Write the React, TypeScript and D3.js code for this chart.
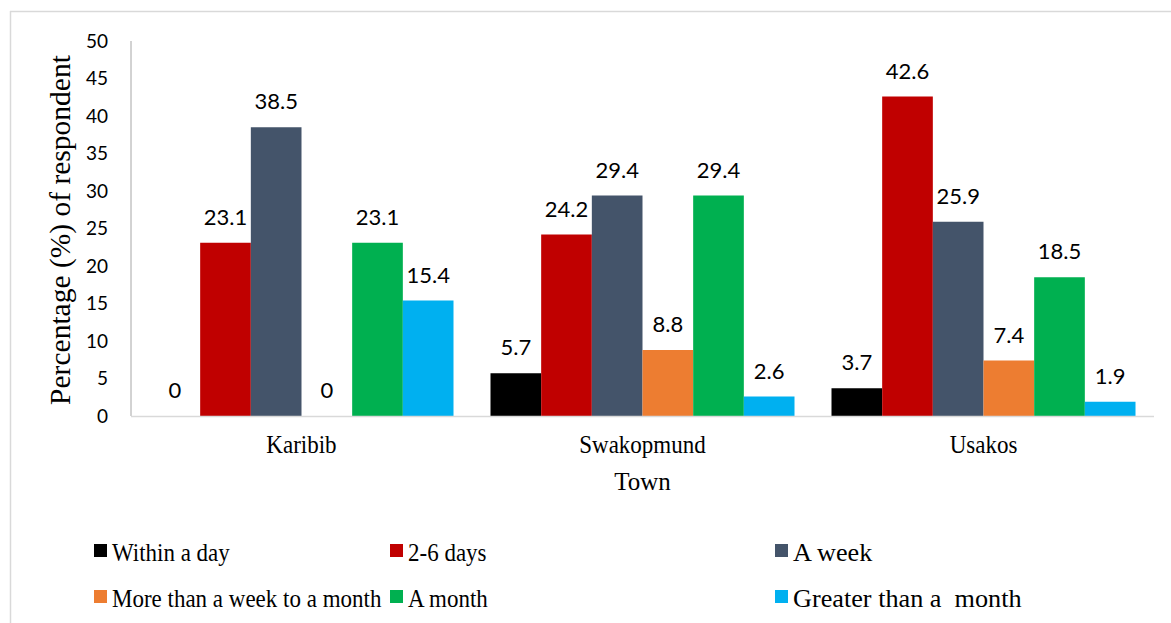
import React from "react";
import * as d3 from "d3";

// Categories and series
const towns = ["Karibib", "Swakopmund", "Usakos"];
const seriesNames = [
  "Within a day",
  "2-6 days",
  "A week",
  "More than a week to a month",
  "A month",
  "Greater than a  month",
];
const withinADay = [0, 5.7, 3.7];
const twoToSixDays = [23.1, 24.2, 42.6];
const aWeek = [38.5, 29.4, 25.9];
const weekToMonth = [0, 8.8, 7.4];
const aMonth = [23.1, 29.4, 18.5];
const greaterThanMonth = [15.4, 2.6, 1.9];
const yTicks = [0, 5, 10, 15, 20, 25, 30, 35, 40, 45, 50];

const seriesValues = [withinADay, twoToSixDays, aWeek, weekToMonth, aMonth, greaterThanMonth];
const colors = ["#000000", "#C00000", "#44546A", "#ED7D31", "#00B050", "#00B0F0"];

const W = 1171;
const H = 623;
const plotLeft = 131;
const plotRight = 1154;
const plotTop = 41;
const plotBottom = 416;

const serif = "'Liberation Serif', 'Times New Roman', serif";
const sans = "Lato, 'Open Sans', sans-serif";

export default function App() {
  const x0 = d3.scaleBand<string>().domain(towns).range([plotLeft, plotRight]).padding(0);
  const x1 = d3
    .scaleBand<number>()
    .domain(d3.range(seriesNames.length))
    .range([18.5, x0.bandwidth() - 18.5])
    .padding(0);
  const y = d3.scaleLinear().domain([0, 50]).range([plotBottom, plotTop]);

  const legendCols = [94, 390, 775];
  const legendRows = [544, 590];
  // the third legend column is set wider than the first two
  const legendScaleX = [1, 1, 1.14];

  return (
    <svg
      width={W}
      height={H}
      style={{ position: "absolute", left: 0, top: 0, background: "#fff" }}
    >
      {/* outer frame */}
      <line x1={10} y1={11.5} x2={W} y2={11.5} stroke="#d9d9d9" strokeWidth={1.5} />
      <line x1={10.5} y1={11} x2={10.5} y2={H} stroke="#d9d9d9" strokeWidth={1.5} />

      {/* y axis */}
      <line x1={plotLeft} y1={plotTop} x2={plotLeft} y2={plotBottom} stroke="#a6a6a6" strokeWidth={1} />
      {yTicks.map((t) => (
        <text
          key={t}
          x={108}
          y={y(t)}
          dy="0.36em"
          textAnchor="end"
          fontFamily={sans}
          fontSize={19}
          fill="#000"
        >
          {t}
        </text>
      ))}
      <text
        transform={`translate(69.5, 230) rotate(-90)`}
        textAnchor="middle"
        fontFamily={serif}
        fontSize={29.5}
        fill="#000"
      >
        Percentage (%) of respondent
      </text>

      {/* bars */}
      {towns.map((town, ti) => (
        <g key={town} transform={`translate(${x0(town)},0)`}>
          {seriesValues.map((vals, si) => {
            const v = vals[ti];
            const bx = x1(si)!;
            return (
              <g key={si}>
                <rect
                  x={bx}
                  y={y(v)}
                  width={x1.bandwidth()}
                  height={y(0) - y(v)}
                  fill={colors[si]}
                />
                <text
                  x={bx + x1.bandwidth() / 2}
                  y={y(v) - 18}
                  textAnchor="middle"
                  fontFamily={sans}
                  fontSize={22}
                  fill="#000"
                >
                  {v}
                </text>
              </g>
            );
          })}
        </g>
      ))}

      {/* x axis */}
      <line x1={plotLeft} y1={plotBottom + 0.5} x2={plotRight} y2={plotBottom + 0.5} stroke="#d9d9d9" strokeWidth={1.5} />
      {towns.map((town) => (
        <text
          key={town}
          transform={`translate(${x0(town)! + x0.bandwidth() / 2}, 453) scale(1, 1.05)`}
          textAnchor="middle"
          fontFamily={serif}
          fontSize={23}
          fill="#000"
        >
          {town}
        </text>
      ))}
      <text
        x={(plotLeft + plotRight) / 2}
        y={490}
        textAnchor="middle"
        fontFamily={serif}
        fontSize={25}
        fill="#000"
      >
        Town
      </text>

      {/* legend */}
      {seriesNames.map((name, i) => {
        const col = i % 3;
        const row = Math.floor(i / 3);
        const lx = legendCols[col];
        const ly = legendRows[row];
        return (
          <g key={name}>
            <rect x={lx} y={ly} width={13} height={13} fill={colors[i]} />
            <text
              transform={`translate(${lx + 18}, ${ly + 16.5}) scale(${legendScaleX[col]}, 1.12)`}
              fontFamily={serif}
              fontSize={23}
              fill="#000"
              style={{ whiteSpace: "pre" }}
            >
              {name}
            </text>
          </g>
        );
      })}
    </svg>
  );
}
